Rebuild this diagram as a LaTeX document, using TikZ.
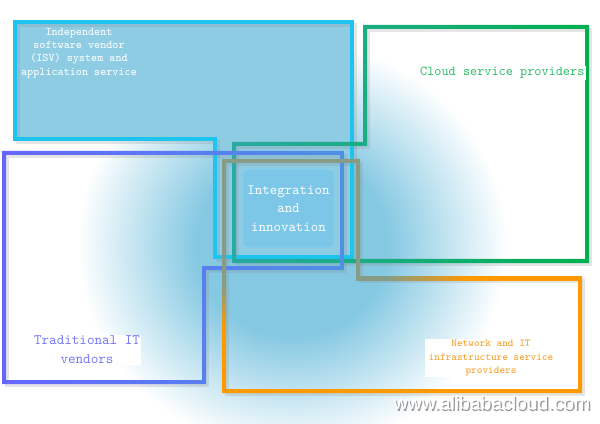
\documentclass[tikz,border=0pt]{standalone}
\usepackage{fontspec}
\newfontfamily\wmfont{Liberation Sans}
\definecolor{glowc}{HTML}{84C8E2}
\definecolor{isvfill}{HTML}{8ECCE4}
\definecolor{cyanline}{HTML}{1EC4F0}
\definecolor{greenline}{HTML}{00B050}
\definecolor{tealline}{HTML}{2AAAA0}
\definecolor{violetline}{HTML}{6666FF}
\definecolor{blueline}{HTML}{4F90E4}
\definecolor{orangeline}{HTML}{FF9900}
\definecolor{oliveline}{HTML}{879C84}
\definecolor{cloudtext}{HTML}{2DBE6A}
\definecolor{tradtext}{HTML}{7878F6}
\definecolor{nettext}{HTML}{F5A02A}
\definecolor{intfill}{HTML}{7CC7E8}
\definecolor{intdraw}{HTML}{8AD4F2}
\pgfdeclareradialshading{glowshade}{\pgfpoint{0bp}{0bp}}{color(0bp)=(glowc); color(11bp)=(glowc); color(18bp)=(glowc!50!white); color(25bp)=(white); color(50bp)=(white)}
\pgfdeclareverticalshading{olivorange}{100bp}{color(0bp)=(orangeline); color(39bp)=(orangeline); color(48bp)=(oliveline); color(100bp)=(oliveline)}
\pgfdeclarehorizontalshading{olivorangeh}{100bp}{color(0bp)=(oliveline); color(32bp)=(oliveline); color(50bp)=(orangeline); color(100bp)=(orangeline)}
\tikzset{
  shadowline/.style={draw=black!45, opacity=0.22, line width=3pt, line join=miter},
  label/.style={inner sep=1pt, align=center},
  intbox/.style={rounded corners=4pt, fill=intfill, draw=intdraw, line width=0.5pt,
     minimum width=60.75pt, minimum height=59.25pt, align=center, text=white,
     font=\ttfamily\fontsize{10.7}{13.9}\selectfont},
}
\begin{document}
\begin{tikzpicture}[x=0.75pt,y=-0.75pt]
\useasboundingbox (0,0) rectangle (600,424);
\fill[white] (0,0) rectangle (600,424);
% blue glow
\shade[shading=glowshade] (292,245) ellipse [x radius=215, y radius=205];
% ISV fill
\fill[isvfill] (15,22) -- (352,22) -- (352,257) -- (215,257) -- (215,139) -- (15,139) -- cycle;
% shadows
\draw[shadowline] (18,25) -- (355,25) -- (355,260) -- (218,260) -- (218,142) -- (18,142) -- cycle;
\draw[shadowline] (368,30) -- (590,30) -- (590,264) -- (237,264) -- (237,147) -- (368,147) -- cycle;
\draw[shadowline] (7,156) -- (345,156) -- (345,271) -- (207,271) -- (207,385) -- (7,385) -- cycle;
\draw[shadowline] (227,164) -- (361,164) -- (361,281) -- (583,281) -- (583,394) -- (227,394) -- cycle;
% ISV outline
\draw[cyanline, line width=3pt] (15,22) -- (352,22) -- (352,257) -- (215,257) -- (215,139) -- (15,139) -- cycle;
% Cloud outline (green)
\shade[even odd rule, left color=tealline, middle color=greenline, right color=greenline]
  (363,25) -- (589,25) -- (589,263) -- (232,263) -- (232,142) -- (363,142) -- cycle
  (367,29) -- (585,29) -- (585,259) -- (236,259) -- (236,146) -- (367,146) -- cycle;
% Traditional outline (violet)
\shade[even odd rule, left color=violetline, middle color=violetline, right color=blueline]
  (2,151) -- (344,151) -- (344,270) -- (206,270) -- (206,384) -- (2,384) -- cycle
  (6,155) -- (340,155) -- (340,266) -- (202,266) -- (202,380) -- (6,380) -- cycle;
% Network outline (olive to orange)
\shade[even odd rule, shading=olivorange]
  (222,159) -- (360,159) -- (360,276) -- (582,276) -- (582,393) -- (222,393) -- cycle
  (226,163) -- (356,163) -- (356,280) -- (578,280) -- (578,389) -- (226,389) -- cycle;
\shade[shading=olivorangeh] (356,276) rectangle (578,280);
\fill[orangeline] (578,276) rectangle (582,393);
% texts
\node[label, text=white, font=\ttfamily\fontsize{8.7}{10.1}\selectfont] (isv) at (79,53)
  {Independent\\software vendor\\(ISV) system and\\application service};
\node[label, fill=white, text=cloudtext, font=\ttfamily\fontsize{10.2}{12}\selectfont, anchor=east] (cloud) at (586,73)
  {Cloud service providers};
\node[label, fill=white, text=tradtext, font=\ttfamily\fontsize{10.8}{14.3}\selectfont] (trad) at (87,350)
  {Traditional IT\\vendors};
\node[label, fill=white, text=nettext, font=\ttfamily\fontsize{8}{10.1}\selectfont, inner xsep=3pt] (net) at (491,358)
  {Network and IT\\infrastructure service\\providers};
\node[intbox] (int) at (288.5,208.5) {Integration\\and\\innovation};
% watermark
\node[text=black!55, opacity=0.7, font=\wmfont\fontsize{14.5}{16}\selectfont] (wmshadow) at (493.5,404.5) {www.alibabacloud.com};
\node[text=white, font=\wmfont\fontsize{14.5}{16}\selectfont] (wm) at (492,403) {www.alibabacloud.com};
\end{tikzpicture}
\end{document}
